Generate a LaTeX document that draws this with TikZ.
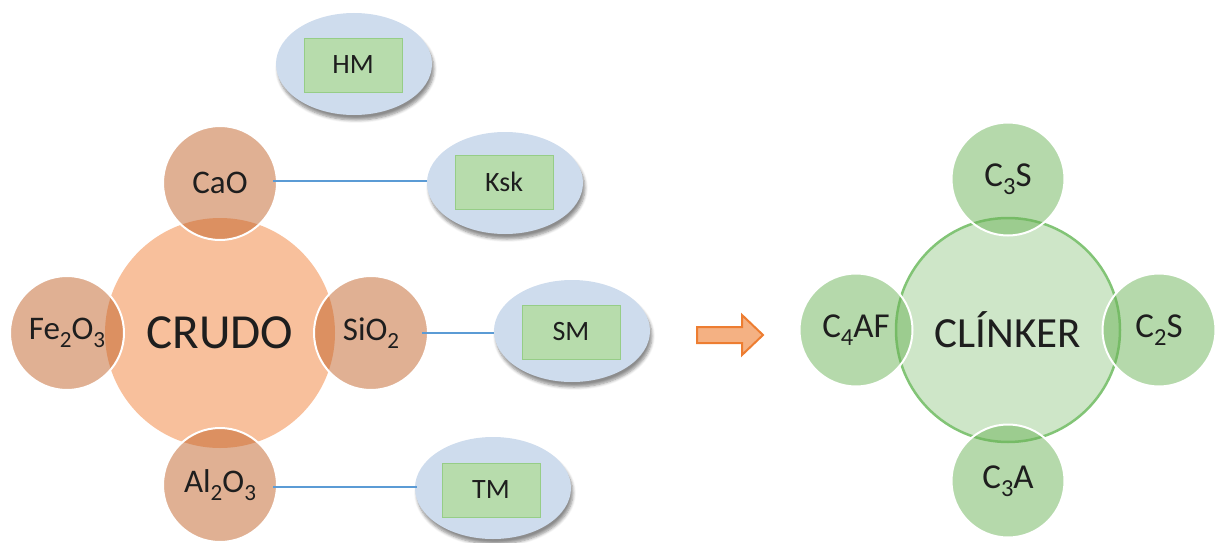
\documentclass[tikz,border=0pt]{standalone}
\usepackage{fontspec}
\usepackage{graphicx}
\setmainfont{Carlito}
\usetikzlibrary{shapes.geometric,shadows.blur}
\newcommand\lowsub[1]{\raisebox{-0.24em}{\scalebox{0.7}{#1}}}
\definecolor{crudo}{RGB}{248,192,156}
\definecolor{oxide}{RGB}{193,97,39}
\definecolor{clink}{RGB}{206,230,200}
\definecolor{clinkline}{RGB}{130,196,118}
\definecolor{phase}{RGB}{107,179,87}
\definecolor{ellfill}{RGB}{206,220,237}
\definecolor{boxfill}{RGB}{183,220,172}
\definecolor{boxline}{RGB}{150,205,135}
\definecolor{connc}{RGB}{91,155,213}
\definecolor{arrfill}{RGB}{244,177,131}
\definecolor{arrline}{RGB}{237,125,49}
\definecolor{txt}{RGB}{30,30,30}
\tikzset{
  bigcirc/.style={circle,inner sep=0pt,text=txt},
  oxidec/.style={circle,minimum size=114pt,inner sep=0pt,fill=oxide,fill opacity=0.5,
     draw=white,draw opacity=1,line width=2pt,text opacity=1,text=txt,
     font=\fontsize{33}{36}\selectfont},
  phasec/.style={circle,minimum size=113pt,inner sep=0pt,fill=phase,fill opacity=0.5,
     draw=white,draw opacity=1,line width=2pt,text opacity=1,text=txt,
     font=\fontsize{35}{38}\selectfont},
  modell/.style={ellipse,minimum width=156pt,minimum height=102pt,inner sep=0pt,fill=ellfill,
     blur shadow={shadow xshift=2pt,shadow yshift=-5pt,shadow blur steps=6,shadow opacity=45,shadow blur radius=3pt}},
  modbox/.style={rectangle,minimum width=98pt,minimum height=54pt,inner sep=0pt,fill=boxfill,
     draw=boxline,line width=0.8pt,text=txt,font=\fontsize{28}{30}\selectfont},
  connline/.style={draw=connc,line width=1.3pt},
  bigarrow/.style={fill=arrfill,draw=arrline,line width=2pt,line join=miter}
}
\begin{document}
\begin{tikzpicture}[x=1pt,y=-1pt]
\useasboundingbox (0,0) rectangle (1216,543);

% ---- Raw mix (CRUDO) ----
\node[bigcirc,minimum size=230pt,fill=crudo,font=\fontsize{49}{52}\selectfont] (crudo) at (220,333) {CRUDO};
\node[oxidec] (cao) at (220,183) {CaO};
\node[oxidec] (fe) at (67,333) {Fe\lowsub{2}O\lowsub{3}};
\node[oxidec] (si) at (371,333) {SiO\lowsub{2}};
\node[oxidec] (al) at (220,485) {Al\lowsub{2}O\lowsub{3}};

% ---- Moduli ----
\node[modell] (hm) at (354,64) {};
\node[modbox] (hmbox) at (353,65) {HM};
\node[modell] (ksk) at (505,183) {};
\node[modbox] (kskbox) at (504,182) {Ksk};
\node[modell] (sm) at (572,331) {};
\node[modbox] (smbox) at (571,332) {SM};
\node[modell] (tm) at (493,488) {};
\node[modbox] (tmbox) at (491,490) {TM};

% ---- Connectors ----
\draw[connline] ([xshift=-5pt,yshift=2pt]cao.east) -- ([yshift=2pt]cao.east -| ksk.west);
\draw[connline] ([xshift=-7pt]si.east) -- (si.east -| sm.west);
\draw[connline] ([xshift=-5pt,yshift=-2pt]al.east) -- ([xshift=2pt,yshift=-2pt]al.east -| tm.west);

% ---- Arrow ----
\coordinate (arr) at (697,335);
\draw[bigarrow] (arr) ++(0,-8) -- ++(45,0) -- ++(0,-12) -- ++(21,20) -- ++(-21,20) -- ++(0,-12) -- ++(-45,0) -- cycle;

% ---- Clinker ----
\node[bigcirc,minimum size=224pt,fill=clink,draw=clinkline,line width=2.5pt,font=\fontsize{43}{46}\selectfont] (clinker) at (1008,330) {CLÍNKER};
\node[phasec] (c3s) at (1008,179) {C\lowsub{3}S};
\node[phasec] (c2s) at (1159,330) {C\lowsub{2}S};
\node[phasec] (c4af) at (856,330) {C\lowsub{4}AF};
\node[phasec] (c3a) at (1008,481) {C\lowsub{3}A};
\end{tikzpicture}
\end{document}
